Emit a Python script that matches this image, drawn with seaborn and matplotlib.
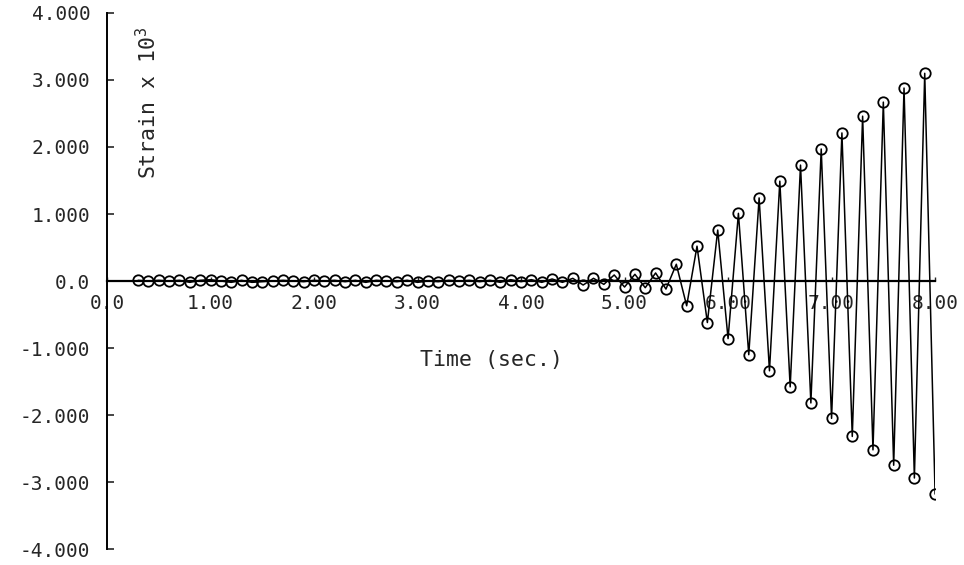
import pandas as pd
import matplotlib.pyplot as plt
import seaborn as sns

# time samples (sec.) and strain (x 10^3)
time_s = [0.3, 0.4, 0.5, 0.6, 0.7, 0.8, 0.9, 1.0, 1.1, 1.2,
          1.3, 1.4, 1.5, 1.6, 1.7, 1.8, 1.9, 2.0, 2.1, 2.2,
          2.3, 2.4, 2.5, 2.6, 2.7, 2.8, 2.9, 3.0, 3.1, 3.2,
          3.3, 3.4, 3.5, 3.6, 3.7, 3.8, 3.9, 4.0, 4.1, 4.2,
          4.3, 4.4, 4.5, 4.6, 4.7, 4.8, 4.9, 5.0, 5.1, 5.2,
          5.3, 5.4, 5.5, 5.6, 5.7, 5.8, 5.9, 6.0, 6.1, 6.2,
          6.3, 6.4, 6.5, 6.6, 6.7, 6.8, 6.9, 7.0, 7.1, 7.2,
          7.3, 7.4, 7.5, 7.6, 7.7, 7.8, 7.9, 8.0]
strain = [0.01, 0.00, 0.01, 0.00, 0.01, -0.02, 0.01, 0.02, 0.00, -0.02,
          0.01, -0.02, -0.01, 0.00, 0.01, 0.00, -0.01, 0.01, 0.00, 0.01,
          -0.01, 0.01, -0.02, 0.01, 0.00, -0.01, 0.01, -0.02, 0.00, -0.01,
          0.01, 0.00, 0.01, -0.01, 0.01, -0.02, 0.02, -0.01, 0.02, -0.02,
          0.03, -0.02, 0.04, -0.06, 0.04, -0.05, 0.09, -0.09, 0.10, -0.10,
          0.12, -0.12, 0.25, -0.37, 0.52, -0.62, 0.76, -0.86, 1.01, -1.10,
          1.24, -1.34, 1.49, -1.58, 1.73, -1.82, 1.97, -2.05, 2.21, -2.32,
          2.46, -2.52, 2.67, -2.75, 2.88, -2.94, 3.10, -3.18]

y_ticks = [4, 3, 2, 1, 0, -1, -2, -3, -4]
y_tick_labels = ["4.000", "3.000", "2.000", "1.000", "0.0",
                 "-1.000", "-2.000", "-3.000", "-4.000"]
x_ticks = [0, 1, 2, 3, 4, 5, 6, 7, 8]
x_tick_labels = ["0.0", "1.00", "2.00", "3.00", "4.00",
                 "5.00", "6.00", "7.00", "8.00"]

df = pd.DataFrame({"Time": time_s, "Strain": strain})

sns.set_style("white")
plt.rcParams["font.family"] = ["DejaVu Sans Mono", "DejaVu Sans"]
plt.rcParams["mathtext.default"] = "regular"
plt.rcParams["xtick.direction"] = "in"
plt.rcParams["ytick.direction"] = "in"

fig = plt.figure(figsize=(9.64, 5.65), dpi=100)
ax = fig.add_axes([0.111, 0.0283, 0.859, 0.9487])

sns.lineplot(data=df, x="Time", y="Strain", ax=ax, color="black",
             linewidth=1.1, marker="o", markersize=7.5,
             markerfacecolor="none", markeredgecolor="black",
             markeredgewidth=1.3, estimator=None, sort=False)

ax.set_xlim(0, 8)
ax.set_ylim(-4, 4)

# axis styling: y spine on the left, x axis through zero
ax.spines["top"].set_visible(False)
ax.spines["right"].set_visible(False)
ax.spines["bottom"].set_position(("data", 0))
ax.spines["left"].set_linewidth(1.4)
ax.spines["bottom"].set_linewidth(1.6)
ax.spines["left"].set_color("black")
ax.spines["bottom"].set_color("black")

ax.set_yticks(y_ticks)
ax.set_yticklabels(y_tick_labels)
ax.set_xticks(x_ticks)
ax.set_xticklabels(x_tick_labels)
ax.tick_params(axis="y", direction="in", length=5, width=1.2,
               pad=12, labelsize=14, left=True)
ax.tick_params(axis="x", direction="in", length=3, width=1.0,
               pad=9, labelsize=14, bottom=True)

ax.set_xlabel("")
ax.set_ylabel("")
ax.text(0.39, 2.66, "Strain x 10$^{3}$", rotation=90,
        ha="center", va="center", fontsize=15.5)
ax.text(3.71, -1.18, "Time (sec.)", ha="center", va="center", fontsize=15.5)

fig.savefig("out.png", dpi=100)
